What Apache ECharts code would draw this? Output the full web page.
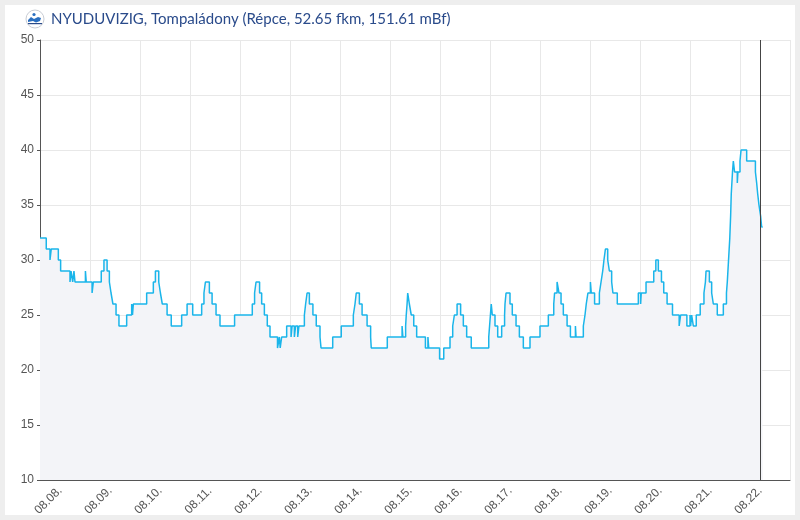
<!DOCTYPE html>
<html><head><meta charset="utf-8">
<script src="https://cdn.jsdelivr.net/npm/echarts@6/dist/echarts.min.js"></script>
<style>
html,body{margin:0;padding:0;background:#eeeeee;}
#wrap{position:absolute;left:5px;top:5px;width:790px;height:510px;background:#ffffff;}
#chart{width:790px;height:510px;}
</style></head><body>
<div id="wrap"><div id="chart"></div></div>
<script>
const titleText = 'NYUDUVIZIG, Tompaládony (Répce, 52.65 fkm, 151.61 mBf)';
const dayLabels = ['08.08.','08.09.','08.10.','08.11.','08.12.','08.13.','08.14.','08.15.','08.16.','08.17.','08.18.','08.19.','08.20.','08.21.','08.22.','08.23.'];
// hours since 08.08. 00:00 at which the water level (cm) changes
const hours = [
0,3.0,4.8,5.4,8.8,9.9,14.4,14.9,15.7,16.3,16.8,21.8,22.2,25.0,25.6,29.4,30.7,32.2,33.3,34.1,35.0,36.5,37.9,41.6,44.0,44.4,44.8,
51.2,54.4,55.4,57.0,57.8,58.7,61.0,63.0,68.0,70.6,73.3,77.6,78.7,79.4,81.3,82.6,84.5,86.4,93.4,
101.9,103.0,103.7,105.4,106.4,107.7,109.1,110.4,114.0,114.9,115.3,116.0,118.4,120.5,121.0,122.1,122.7,123.7,124.3,126.9,127.5,128.2,129.3,131.0,132.6,134.4,134.9,140.5,
144.6,150.4,151.2,151.8,153.3,154.6,157.0,158.7,159.0,166.7,173.8,174.2,175.5,175.8,176.2,176.5,177.3,178.2,179.4,180.8,185.0,186.2,186.6,191.8,193.8,196.8,198.1,198.9,
200.2,201.9,203.2,204.8,207.0,215.4,215.8,216.2,216.6,217.1,218.4,219.7,221.6,223.0,223.2,223.7,225.6,226.7,228.5,230.1,232.0,235.2,240.0,244.0,246.6,247.0,248.2,249.1,
250.1,251.2,253.0,254.6,257.0,257.3,260.8,261.6,262.2,263.0,264.2,264.6,266.2,268.5,269.3,270.1,270.7,271.4,272.5,273.3,274.4,275.0,277.1,287.2,288.3,288.6,290.9,294.6,
295.6,296.8,298.3,299.4,301.0,303.6,306.8,307.5,310.5,312.0,312.3,312.8,313.6,315.0,316.9,318.7,319.4,319.7,321.3,322.4,323.2,325.1,328.0,329.5,329.9,330.5,331.1,331.5,
331.8,332.1,332.4,332.8,333.4,334.7,335.0,336.0,336.5,339.2,343.4,344.0,344.5,345.1,345.9,346.4,346.9
];
const levels = [
32,31,30,31,30,29,28,29,28,29,28,29,28,27,28,29,30,29,28,27,26,25,24,25,26,25,26,
27,28,29,28,27,26,25,24,25,26,25,26,27,28,27,26,25,24,25,
26,27,28,27,26,25,24,23,22,23,22,23,24,23,24,23,24,23,24,25,26,27,26,25,24,23,22,23,
24,25,26,27,26,25,24,23,22,23,24,23,24,25,26,27,26,25,24,23,22,23,22,21,22,23,24,25,
26,25,24,23,22,23,24,25,26,25,24,23,24,25,26,27,26,25,24,23,22,23,24,25,26,27,28,27,
26,25,24,23,24,23,24,25,26,27,28,27,26,27,28,29,30,31,30,29,28,27,26,27,26,27,28,29,
30,29,28,27,26,25,24,25,24,25,24,25,24,25,26,27,28,29,28,27,26,25,26,27,28,30,32,34,
36,37,38,39,38,37,38,39,40,39,38,37,36,35,34,33,33
];
const nowHour = 345.8;
const yMin = 10, yMax = 50, yStep = 5;
const dayHours = 24;

const chart = echarts.init(document.getElementById('chart'));
chart.setOption({
  animation: false,
  backgroundColor: '#ffffff',
  title: {
    text: titleText, left: 46, top: 7, padding: 0,
    textStyle: {fontFamily: 'Lato', fontSize: 15, fontWeight: 'normal', color: '#2a4b8b'}
  },
  graphic: [
    {type: 'circle', shape: {cx: 30, cy: 14, r: 9}, style: {fill: '#ffffff', stroke: '#c8ccd4', lineWidth: 1}},
    {type: 'polygon', shape: {points: [[23,15],[26,12],[29,14],[33,12],[36,13],[35,16],[31,17.5],[28,16],[23,17]]}, style: {fill: '#2a6fc0'}},
    {type: 'circle', shape: {cx: 29, cy: 9.5, r: 1.6}, style: {fill: '#2a6fc0'}},
    {type: 'rect', shape: {x: 23, y: 18, width: 14, height: 1.2}, style: {fill: '#2a4b8b'}}
  ],
  grid: {left: 35, right: 5, top: 35, bottom: 35, containLabel: false, outerBoundsMode: 'none'},
  xAxis: {
    type: 'value', min: 0, max: dayHours * (dayLabels.length - 1), interval: dayHours,
    axisLine: {show: true, lineStyle: {color: '#555555', width: 1}},
    axisTick: {show: true, inside: true, length: 5, lineStyle: {color: '#555555'}},
    splitLine: {show: true, lineStyle: {color: '#e8e8e8', width: 1}},
    axisLabel: {
      formatter: v => dayLabels[Math.round(v / dayHours)],
      rotate: 45, showMaxLabel: false, color: '#555555', fontSize: 12,
      fontFamily: 'Liberation Sans', align: 'center', verticalAlign: 'top',
      margin: 12, padding: [6, 0, 0, 0]
    }
  },
  yAxis: {
    type: 'value', min: yMin, max: yMax, interval: yStep,
    axisLine: {show: true, lineStyle: {color: '#555555', width: 1}},
    axisTick: {show: true, inside: false, length: 3, lineStyle: {color: '#555555'}},
    splitLine: {show: true, lineStyle: {color: '#e8e8e8', width: 1}},
    axisLabel: {color: '#555555', fontSize: 12, fontFamily: 'Liberation Sans', margin: 6}
  },
  series: [{
    type: 'line', step: 'end', showSymbol: false,
    data: hours.map((h, i) => [h, levels[i]]),
    lineStyle: {color: '#1ab5ea', width: 1.5},
    itemStyle: {color: '#1ab5ea'},
    areaStyle: {color: '#f3f4f8', opacity: 1},
    markLine: {
      silent: true, symbol: 'none', label: {show: false},
      lineStyle: {color: '#444444', width: 1, type: 'solid'},
      data: [{xAxis: nowHour}]
    }
  }]
});
</script></body></html>
